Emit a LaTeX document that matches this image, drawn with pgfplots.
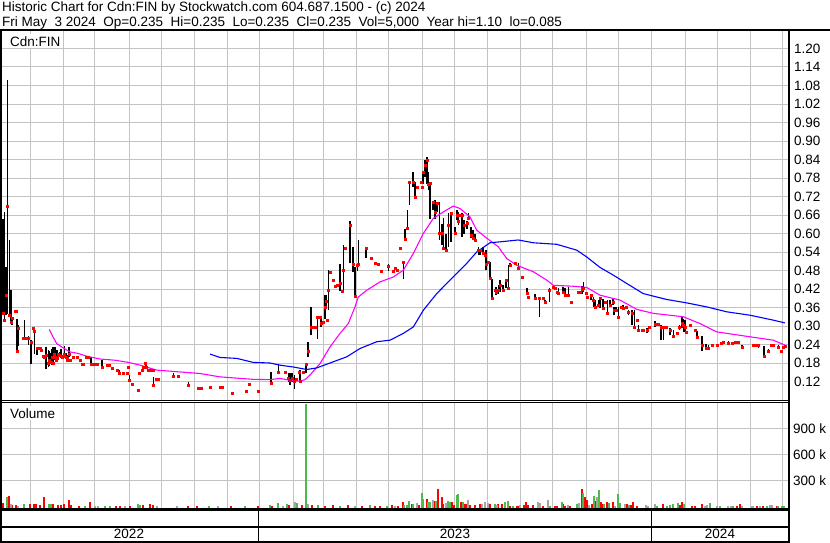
\documentclass[border=0pt]{standalone}
\usepackage{fontspec}
\setmainfont{Liberation Sans}
\usepackage{pgfplots}
\usepackage{pgfplotstable}
\pgfplotsset{compat=1.18}

\definecolor{gridgray}{RGB}{195,195,195}
\definecolor{volgreen}{RGB}{76,187,76}
\definecolor{volgray}{RGB}{165,165,165}
\definecolor{swmag}{RGB}{255,0,255}
\definecolor{swblue}{RGB}{0,0,255}
\definecolor{swred}{RGB}{255,0,0}

% daily bars (x = chart position, roughly one unit per calendar day)
\pgfplotstableread{
x hi lo cl
3.3 0.648 0.340 0.340
4.3 0.670 0.319 0.319
6.0 0.491 0.335 0.400
7.3 1.099 0.340 0.689
9.3 0.580 0.335 0.335
10.7 0.416 0.313 0.313
12.0 0.324 0.302 0.324
14.7 0.348 0.348 0.348
15.7 0.348 0.348 0.348
16.7 0.324 0.216 0.218
18.3 0.304 0.234 0.294
22.7 0.259 0.259 0.259
24.3 0.319 0.254 0.259
26.0 0.259 0.259 0.259
28.3 0.267 0.238 0.259
30.7 0.254 0.178 0.248
33.3 0.294 0.294 0.294
34.3 0.286 0.210 0.284
36.7 0.232 0.205 0.228
38.3 0.228 0.228 0.228
40.0 0.228 0.228 0.228
41.0 0.222 0.222 0.222
42.7 0.202 0.202 0.202
44.3 0.205 0.200 0.200
45.7 0.232 0.159 0.205
48.3 0.222 0.167 0.178
49.3 0.220 0.170 0.190
50.7 0.211 0.178 0.184
51.7 0.227 0.175 0.200
52.7 0.232 0.176 0.178
54.0 0.232 0.189 0.210
55.3 0.232 0.191 0.200
56.0 0.189 0.189 0.189
56.7 0.222 0.187 0.195
58.3 0.209 0.205 0.209
59.3 0.216 0.200 0.205
60.7 0.224 0.200 0.202
61.7 0.200 0.195 0.198
63.3 0.202 0.202 0.202
64.3 0.235 0.200 0.210
66.0 0.211 0.195 0.200
66.7 0.189 0.189 0.189
67.3 0.205 0.189 0.195
69.0 0.232 0.200 0.210
70.0 0.189 0.184 0.189
72.7 0.200 0.200 0.200
76.7 0.200 0.200 0.200
80.0 0.189 0.189 0.189
81.7 0.176 0.176 0.176
83.3 0.176 0.176 0.176
86.0 0.200 0.200 0.200
88.3 0.200 0.200 0.200
90.7 0.198 0.176 0.176
94.0 0.176 0.176 0.176
97.3 0.176 0.176 0.176
101.7 0.189 0.167 0.167
106.7 0.173 0.173 0.173
109.3 0.173 0.173 0.173
111.7 0.163 0.163 0.163
116.7 0.157 0.157 0.157
119.3 0.157 0.148 0.148
122.7 0.148 0.148 0.148
126.7 0.148 0.148 0.148
128.5 0.167 0.167 0.167
129.5 0.141 0.124 0.124
131.7 0.111 0.111 0.111
137.7 0.092 0.092 0.092
139.0 0.148 0.148 0.148
141.7 0.157 0.157 0.157
143.3 0.165 0.165 0.165
145.0 0.178 0.178 0.178
146.0 0.178 0.163 0.165
148.3 0.157 0.157 0.157
150.7 0.160 0.157 0.157
152.7 0.157 0.157 0.157
153.3 0.135 0.108 0.108
156.0 0.127 0.127 0.127
158.3 0.127 0.127 0.127
173.3 0.148 0.137 0.137
178.3 0.137 0.137 0.137
188.3 0.118 0.108 0.108
198.3 0.098 0.098 0.098
201.0 0.098 0.098 0.098
210.0 0.102 0.102 0.102
220.0 0.102 0.102 0.102
221.7 0.102 0.102 0.102
231.7 0.083 0.083 0.083
246.0 0.090 0.090 0.090
249.3 0.111 0.111 0.111
258.3 0.090 0.090 0.090
271.0 0.151 0.113 0.113
278.3 0.176 0.146 0.149
285.0 0.149 0.149 0.149
288.3 0.149 0.119 0.130
290.0 0.148 0.108 0.124
291.7 0.146 0.119 0.130
294.3 0.140 0.097 0.120
296.0 0.126 0.126 0.126
299.3 0.149 0.149 0.149
300.0 0.157 0.119 0.122
303.3 0.149 0.149 0.149
306.0 0.178 0.146 0.176
307.7 0.249 0.200 0.219
310.7 0.362 0.270 0.297
313.3 0.297 0.297 0.297
315.0 0.297 0.297 0.297
317.3 0.330 0.259 0.330
320.0 0.330 0.330 0.330
320.7 0.330 0.297 0.308
323.3 0.313 0.313 0.313
325.0 0.400 0.324 0.360
326.0 0.400 0.357 0.380
326.7 0.319 0.319 0.319
328.3 0.481 0.351 0.416
330.0 0.475 0.475 0.475
332.7 0.449 0.449 0.449
335.0 0.430 0.430 0.430
337.3 0.432 0.432 0.432
340.0 0.500 0.414 0.440
341.7 0.414 0.414 0.414
343.3 0.562 0.416 0.481
345.0 0.551 0.551 0.551
350.0 0.640 0.503 0.627
352.7 0.557 0.476 0.500
355.0 0.492 0.395 0.397
357.3 0.500 0.480 0.497
358.3 0.578 0.492 0.499
366.0 0.551 0.519 0.551
371.0 0.519 0.519 0.519
375.0 0.503 0.503 0.503
378.3 0.499 0.499 0.499
381.0 0.479 0.479 0.479
388.3 0.500 0.479 0.495
392.7 0.479 0.479 0.479
395.0 0.492 0.481 0.486
397.3 0.481 0.481 0.481
400.0 0.551 0.551 0.551
403.3 0.511 0.451 0.508
405.0 0.616 0.578 0.580
407.3 0.675 0.616 0.616
409.3 0.767 0.692 0.767
412.7 0.800 0.751 0.767
415.0 0.767 0.719 0.719
417.3 0.751 0.751 0.751
420.7 0.767 0.767 0.767
421.7 0.751 0.751 0.751
422.7 0.800 0.762 0.800
425.0 0.838 0.784 0.822
426.7 0.848 0.762 0.838
428.3 0.800 0.740 0.760
430.0 0.767 0.648 0.762
432.7 0.703 0.675 0.703
435.0 0.708 0.648 0.670
436.7 0.697 0.670 0.697
439.3 0.703 0.578 0.600
441.7 0.632 0.562 0.600
443.3 0.649 0.546 0.551
446.0 0.600 0.540 0.546
448.3 0.665 0.557 0.627
451.0 0.665 0.573 0.665
455.0 0.622 0.600 0.600
456.7 0.676 0.643 0.659
458.3 0.670 0.627 0.640
460.0 0.659 0.659 0.659
461.7 0.665 0.589 0.659
464.0 0.643 0.600 0.627
466.7 0.640 0.615 0.632
468.3 0.665 0.643 0.650
470.7 0.622 0.584 0.594
472.7 0.611 0.578 0.584
475.0 0.600 0.573 0.578
478.3 0.557 0.530 0.546
480.0 0.551 0.530 0.546
482.7 0.557 0.530 0.535
485.0 0.530 0.530 0.530
486.0 0.546 0.481 0.500
487.7 0.508 0.508 0.508
490.0 0.508 0.449 0.454
491.7 0.454 0.387 0.389
495.0 0.416 0.416 0.416
496.0 0.427 0.400 0.410
498.3 0.432 0.405 0.416
500.0 0.449 0.411 0.432
502.7 0.432 0.411 0.416
506.0 0.454 0.422 0.449
508.3 0.497 0.422 0.422
510.0 0.503 0.492 0.497
515.0 0.508 0.497 0.505
518.3 0.503 0.481 0.486
521.7 0.459 0.459 0.459
526.7 0.422 0.400 0.405
528.3 0.395 0.395 0.395
535.0 0.405 0.384 0.389
539.3 0.389 0.330 0.389
542.7 0.389 0.389 0.389
545.0 0.384 0.373 0.378
549.3 0.422 0.378 0.416
552.7 0.425 0.425 0.425
555.0 0.422 0.422 0.422
556.7 0.411 0.411 0.411
558.3 0.422 0.400 0.405
562.7 0.427 0.411 0.411
565.0 0.422 0.395 0.400
568.3 0.427 0.395 0.400
571.0 0.378 0.378 0.378
577.7 0.411 0.411 0.411
580.0 0.411 0.411 0.411
581.7 0.429 0.405 0.420
583.3 0.443 0.411 0.422
586.0 0.405 0.405 0.405
587.3 0.395 0.395 0.395
590.7 0.400 0.384 0.400
593.3 0.395 0.362 0.384
595.0 0.384 0.357 0.360
598.3 0.384 0.362 0.368
600.0 0.395 0.357 0.389
602.7 0.389 0.357 0.357
605.0 0.378 0.378 0.378
607.3 0.384 0.341 0.343
610.0 0.384 0.362 0.368
612.7 0.389 0.368 0.378
614.0 0.362 0.335 0.351
616.0 0.362 0.346 0.351
618.3 0.362 0.330 0.330
621.0 0.362 0.362 0.362
622.7 0.368 0.351 0.357
626.0 0.362 0.362 0.362
628.3 0.351 0.335 0.346
631.7 0.351 0.303 0.341
634.3 0.351 0.297 0.297
636.7 0.319 0.319 0.319
638.3 0.303 0.287 0.287
641.7 0.287 0.287 0.287
642.7 0.287 0.287 0.287
646.7 0.292 0.276 0.287
649.3 0.297 0.297 0.297
655.0 0.317 0.297 0.306
658.3 0.306 0.306 0.306
661.0 0.303 0.254 0.297
663.3 0.297 0.254 0.297
666.0 0.297 0.297 0.297
670.0 0.292 0.270 0.287
673.3 0.287 0.265 0.267
676.7 0.278 0.278 0.278
679.3 0.303 0.287 0.297
681.7 0.330 0.292 0.308
683.3 0.324 0.281 0.303
685.0 0.319 0.281 0.297
686.0 0.281 0.281 0.281
690.0 0.303 0.303 0.303
695.0 0.287 0.287 0.287
696.7 0.284 0.263 0.263
701.7 0.267 0.219 0.238
706.0 0.241 0.224 0.227
708.3 0.238 0.227 0.227
711.7 0.238 0.238 0.238
717.3 0.238 0.238 0.238
720.7 0.245 0.245 0.245
722.7 0.249 0.249 0.249
728.3 0.252 0.241 0.245
731.7 0.249 0.238 0.245
735.0 0.249 0.249 0.249
738.3 0.252 0.241 0.249
741.7 0.238 0.227 0.230
752.7 0.238 0.238 0.238
755.0 0.238 0.238 0.238
758.3 0.241 0.230 0.238
764.0 0.235 0.200 0.202
768.3 0.227 0.211 0.219
770.7 0.238 0.238 0.238
773.3 0.238 0.238 0.238
778.3 0.238 0.227 0.230
780.7 0.219 0.219 0.219
783.3 0.230 0.230 0.230
785.0 0.235 0.235 0.235
}\pricetab

% volume in thousands, split by bar colour
\pgfplotstableread{
x v
3.3 38
9 126
12.3 19
16 13
30 34
34.3 26
36 26
40 13
44.3 107
53.3 26
58.3 19
61 13
64 26
69 72
70.7 13
79.3 8
90 57
116 8
120 8
130 8
143.3 13
150 26
152.7 19
188.3 6
196.7 6
230.7 6
257.7 6
271.7 6
289 13
302 15
312 12
325 8
333 12
348 15
362 8
375 8
380 4
391.7 19
398.3 4
402.7 50
411.7 27
419.3 19
426.7 84
434.3 65
438.3 203
441.7 107
443.3 27
451.7 50
454 19
460.7 57
465 27
466.7 27
470 19
475 19
480 27
490 27
498.3 27
501.7 27
510 11
516.7 4
518.3 5
524 19
526 50
527.7 19
533.3 19
543.3 4
555 4
557.3 4
563.3 27
565 4
570 4
581.7 203
585 115
586.7 76
591.7 27
595 65
600.7 50
602.7 27
606.7 50
612.7 50
627.3 27
630.7 19
633.3 50
636.7 4
662.7 27
680 19
681.7 50
691.7 8
695 8
701.7 27
736.7 8
740 27
756.7 8
763.3 8
776.7 8
}\volred
\pgfplotstableread{
x v
6.7 115
24 26
49.3 26
50.7 26
85 8
105 8
110 8
137.7 26
140 13
209.3 6
245 6
270 13
277.7 38
287.3 26
296.7 38
305.5 1185
318 20
340 8
370 12
387.3 11
404 19
406.7 19
408.7 65
413.3 27
421.7 153
423.3 84
428.3 50
430 50
436 65
447.7 65
450 57
456.7 134
458.3 142
463.3 50
495 27
505 50
507.7 65
513.3 11
550 4
561.7 50
577.3 27
583.3 153
594 126
599.3 191
604 27
609.3 38
618.3 142
620 38
629.3 19
656.7 8
666.7 8
670 19
673.3 27
678.3 38
684 27
710 38
720 8
733.3 8
766.7 8
778.3 8
781.7 8
784 8
}\volgreen
\pgfplotstableread{
x v
10.7 26
18.3 8
95 6
98 6
125 6
156.7 6
176.7 4
218.3 6
283.3 4
295 57
308 30
355 8
395 4
417.3 38
432.7 76
446 38
468.3 76
481.7 27
485 50
488.3 38
496.7 19
520 19
538.3 50
540 38
548.3 76
568.3 19
579.3 38
589.3 19
597.3 104
615 4
625 27
646 19
648.3 8
655 27
705 8
707.3 19
716.7 8
728.3 8
730.7 8
741.7 8
751.7 8
753.3 8
760 8
770 19
771.7 19
}\volgray

\newcommand{\swfont}{\fontsize{13.5bp}{15bp}\selectfont}

\pgfplotsset{
  swpanel/.style={
    scale only axis, width=786bp, xmin=2, xmax=788,
    xtick=\empty,
    axis line style={draw=none},
    major tick length=0pt,
    yticklabel pos=right,
    yticklabel style={anchor=west, inner sep=0pt, font=\swfont},
  },
  % one volume bar drawn from the panel floor up to the day's volume
  volbar/.style={draw=none, mark=none,
    error bars/.cd, y dir=minus, y explicit, error mark=none,
    error bar style={draw=#1, line width=2bp}},
}

\begin{document}
\begin{tikzpicture}
\path[use as bounding box] (0,0) rectangle (830bp,-543bp);

% month and level grid, drawn beneath both panels
\begin{scope}[x=1bp, y=-1bp, draw=gridgray, line width=1bp]
\foreach \gx in {30.5,63.5,94.5,129.5,161.5,194.5,227.5,259.5,293.5,323.5,356.5,388.5,422.5,454.5,487.5,520.5,552.5,586.5,618.5,651.5,685.5,717.5,750.5,782.5} {
  \draw (\gx,31) -- (\gx,400);
  \draw (\gx,402.8) -- (\gx,508.3);
}
\foreach \gy in {48.5,66.5,85.5,104.5,122.5,141.5,159.5,178.5,196.5,215.5,233.5,252.5,270.5,289.5,307.5,326.5,344.5,363.5,381.5,428.5,454.5,480.5} {
  \draw (2,\gy) -- (788,\gy);
}
\end{scope}

% price panel
\begin{axis}[swpanel, at={(2bp,-31bp)}, anchor=north west, height=369bp,
  ymin=0.06, ymax=1.2568,
  ytick={0.12,0.18,0.24,0.30,0.36,0.42,0.48,0.54,0.60,0.66,0.72,0.78,0.84,0.90,0.96,1.02,1.08,1.14,1.20},
  yticklabels={0.12,0.18,0.24,0.30,0.36,0.42,0.48,0.54,0.60,0.66,0.72,0.78,0.84,0.90,0.96,1.02,1.08,1.14,1.20},
  yticklabel style={xshift=6bp},
]
\addplot[draw=none, mark=none,
  error bars/.cd, y dir=plus, y explicit, error mark=none,
  error bar style={draw=black, line width=1.6bp}]
  table[x=x, y=lo, y error expr=\thisrow{hi}-\thisrow{lo}] {\pricetab};
\addplot[only marks, mark=square*, mark size=1bp, color=swred]
  table[x=x, y=cl] {\pricetab};
% short moving average
\addplot[swmag, line width=1.1bp] coordinates {
(49.3,0.289) (53,0.265) (56.7,0.243) (61.7,0.232) (70,0.216) (78.3,0.211)
(86.7,0.202) (100,0.193) (115,0.189) (128.3,0.182) (140,0.173) (156.7,0.157)
(180,0.151) (200,0.146) (220,0.135) (253.3,0.127) (270,0.126) (280,0.130)
(290,0.124) (300,0.121) (305,0.126) (310,0.141) (320,0.178) (330,0.232)
(340,0.276) (348.3,0.308) (355,0.362) (358.3,0.394) (366.7,0.416) (380,0.443)
(393.3,0.459) (403.3,0.481) (413.3,0.535) (423.3,0.600) (433.3,0.649)
(443.3,0.670) (453.3,0.689) (460,0.681) (470,0.654) (476.7,0.611)
(486.7,0.585) (498.3,0.557) (506.7,0.519) (516.7,0.497) (533.3,0.476)
(546.7,0.449) (553.3,0.432) (573.3,0.429) (586.7,0.425) (600,0.400)
(620,0.384) (636.7,0.354) (653.3,0.341) (683.3,0.330) (700,0.308)
(716.7,0.281) (750,0.265) (773.3,0.254) (785,0.238)};
% long moving average
\addplot[swblue, line width=1.1bp] coordinates {
(210,0.209) (220,0.198) (236.7,0.195) (253.3,0.182) (270,0.180) (280,0.173)
(293.3,0.167) (306.7,0.159) (316.7,0.164) (330,0.180) (346.7,0.200)
(360,0.227) (376.7,0.249) (390,0.254) (403.3,0.276) (413.3,0.297)
(423.3,0.351) (436.7,0.405) (450,0.449) (460,0.481) (466.7,0.503)
(476.7,0.540) (490,0.570) (500,0.573) (518.3,0.579) (533.3,0.570)
(556.7,0.565) (576.7,0.546) (586.7,0.524) (600,0.490) (613.3,0.465)
(626.7,0.438) (643.3,0.405) (666.7,0.386) (686.7,0.375) (706.7,0.362)
(726.7,0.346) (750,0.335) (773.3,0.319) (785,0.310)};
\end{axis}

% volume panel (thousands of shares)
\begin{axis}[swpanel, at={(2bp,-402.5bp)}, anchor=north west, height=105.8bp,
  ymin=-21, ymax=1200,
  ytick={300,600,900}, yticklabels={300 k,600 k,900 k},
  yticklabel style={xshift=5bp},
]
\addplot[volbar=swred] table[x=x, y=v, y error expr=\thisrow{v}+25] {\volred};
\addplot[volbar=volgreen] table[x=x, y=v, y error expr=\thisrow{v}+25] {\volgreen};
\addplot[volbar=volgray] table[x=x, y=v, y error expr=\thisrow{v}+25] {\volgray};
\end{axis}

\begin{scope}[x=1bp, y=-1bp]
% frame
\draw[line width=1.6bp] (0,30) -- (830,30);
\draw[line width=2bp] (1,30) -- (1,543);
\draw[line width=2bp] (789,30) -- (789,542.8);
\draw[line width=1bp] (0,400) -- (789,400);
\draw[line width=1bp] (0,402.8) -- (789,402.8);
\draw[line width=2.4bp] (0,509.5) -- (789,509.5);
\draw[line width=2bp] (0,526.7) -- (789,526.7);
\draw[line width=2bp] (0,541.8) -- (789,541.8);
\draw[line width=1.5bp] (258.3,509.5) -- (258.3,541.8);
\draw[line width=1.5bp] (651.7,509.5) -- (651.7,541.8);
% texts
\node[anchor=base west, inner sep=0pt, font=\swfont] at (2,11.5)
  {Historic Chart for Cdn:FIN by Stockwatch.com 604.687.1500 - (c) 2024};
\node[anchor=base west, inner sep=0pt, font=\swfont] at (2,26)
  {Fri May~~3 2024~~Op=0.235~~Hi=0.235~~Lo=0.235~~Cl=0.235~~Vol=5,000~~Year hi=1.10~~lo=0.085};
\node[anchor=base west, fill=white, inner sep=2bp, font=\swfont] at (8,46) {Cdn:FIN};
\node[anchor=base west, fill=white, inner sep=2bp, font=\swfont] at (8,418) {Volume};
\node[font=\swfont] at (129,534.3) {2022};
\node[font=\swfont] at (455,534.3) {2023};
\node[font=\swfont] at (720,534.3) {2024};
\end{scope}
\end{tikzpicture}
\end{document}
